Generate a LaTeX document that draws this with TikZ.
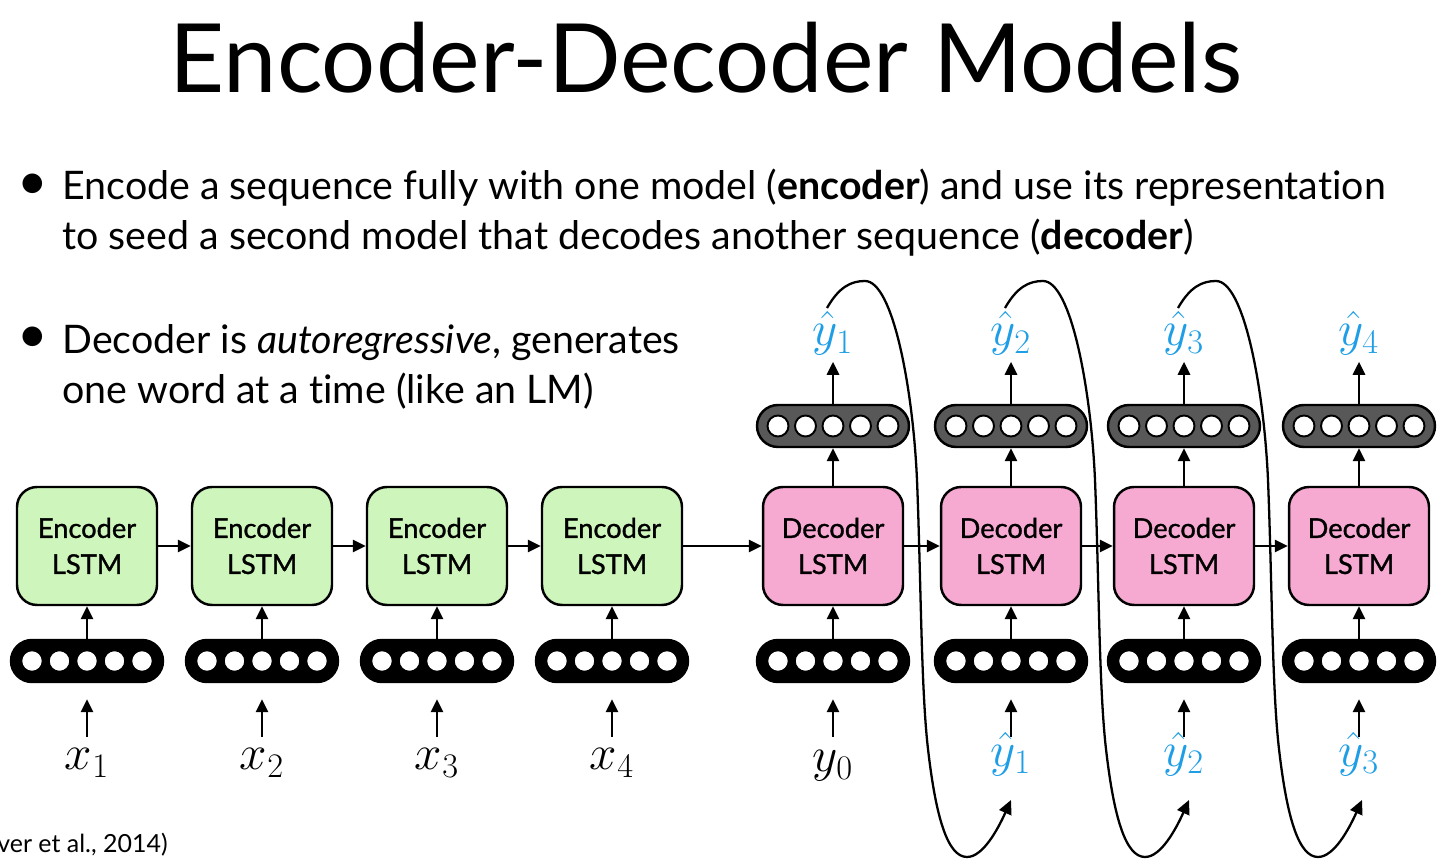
\RequirePackage{fix-cm}
\documentclass[tikz,border=0pt]{standalone}
\usepackage{fontspec}
\setmainfont{Lato}[Ligatures = NoCommon]
\newfontfamily\boxfont{Lato}[FakeBold = 1.2]
\usepackage{tikz}
\usetikzlibrary{arrows.meta,calc,positioning}
\definecolor{encgreen}{RGB}{206,246,188}
\definecolor{decpink}{RGB}{246,170,210}
\definecolor{outgray}{RGB}{88,88,88}
\definecolor{predblue}{RGB}{30,158,230}

\begin{document}
\begin{tikzpicture}[x=0.02cm, y=0.02cm]
	\tikzstyle{lstm} = [draw = black, line width = 1.4pt, rounded corners = 0.4cm, minimum width = 2.8cm, minimum height = 2.36cm, inner sep = 0pt, align = center, font = \boxfont\fontsize{15.5}{20.5}\selectfont]
	\tikzstyle{vec} = [draw = black, line width = 1.4pt, rounded corners = 0.42cm, minimum width = 3.04cm, minimum height = 0.84cm, inner sep = 0pt]
	\tikzstyle{arr} = [-{Triangle[length = 0.26cm, width = 0.24cm]}, line width = 1.6pt]
	\tikzstyle{inarr} = [arr, shorten < = 0.12cm, shorten > = 0.32cm]
	\tikzstyle{lbl} = [anchor = base, font = \fontsize{28}{30}\selectfont]
	\tikzstyle{txt} = [anchor = base west, inner sep = 0pt, font = \fontsize{22.4}{26}\selectfont]
	\tikzstyle{dot} = [anchor = center, inner sep = 0pt, font = \fontsize{30}{30}\selectfont]
\useasboundingbox (0,0) rectangle (1451,859);
\fill[white] (0,0) rectangle (1451,859);
% title and bullets
\node[anchor = base, inner sep = 0pt, font = \fontsize{54.4}{60}\selectfont] (title) at (706,766) {Encoder-Decoder Models};
\node[dot] (dot1) at (33,672) {\textbullet};
\node[txt] (l1) at (62,659) {Encode a sequence fully with one model (\textbf{encoder}) and use its representation};
\node[txt] (l2) at (62,609) {to seed a second model that decodes another sequence (\textbf{decoder})};
\node[dot] (dot2) at (33,519) {\textbullet};
\node[txt] (l3) at (62,505) {Decoder is \textit{autoregressive}, generates};
\node[txt] (l4) at (62,455) {one word at a time (like an LM)};
\node[anchor = base west, inner sep = 0pt, font = \fontsize{14.2}{17}\selectfont] (cite) at (-3,7) {ver et al., 2014)};
% encoder
\foreach \i/\x in {1/87,2/262,3/437,4/612} {
	\node[lstm, fill = encgreen] (e\i) at (\x,313) {Encoder\\LSTM};
	\node[vec, fill = black] (ve\i) at (\x,198) {};
	\foreach \k in {-2,...,2}
		\draw[line width = 0.8pt, fill = white] ($(ve\i)+(\k*27.5,0)$) circle (10.5);
	\node[lbl] (x\i) at (\x,89) {$x_\i$};
	\path[draw][arr] (ve\i) -- (e\i);
	\path[draw][inarr] (x1.north -| ve\i) -- (ve\i);
}
% decoder
\foreach \i/\x in {1/833,2/1011,3/1184,4/1359} {
	\node[lstm, fill = decpink] (d\i) at (\x,313) {Decoder\\LSTM};
	\node[vec, fill = black] (vd\i) at (\x,198) {};
	\node[vec, fill = outgray] (vo\i) at (\x,433) {};
	\foreach \k in {-2,...,2} {
		\draw[line width = 0.8pt, fill = white] ($(vd\i)+(\k*27.5,0)$) circle (10.5);
		\draw[line width = 1.1pt, fill = white] ($(vo\i)+(\k*27.5,0)$) circle (10.5);
	}
	\node[lbl, text = predblue] (yo\i) at (\x,513) {$\hat{y}_\i$};
	\path[draw][arr] (vd\i) -- (d\i);
	\path[draw][arr] (d\i) -- (vo\i);
	\path[draw][arr] (vo\i.north) -- (vo\i.north |- yo1.south);
}
\node[lbl] (yi1) at (833,87) {$y_0$};
\foreach \i/\j in {2/1,3/2,4/3}
	\node[lbl, text = predblue] (yi\i) at (d\i |- yi1) {$\hat{y}_\j$};
\foreach \i in {1,...,4}
	\path[draw][inarr] (x1.north -| vd\i) -- (vd\i);
% recurrent links
\foreach \i/\j in {1/2,2/3,3/4} {
	\path[draw][arr] (e\i) -- (e\j);
	\path[draw][arr] (d\i) -- (d\j);
}
\path[draw][arr] (e4) -- (d1);
% feeding the prediction back in
\foreach \i/\x in {1/833,2/1011,3/1184} {
	\begin{scope}[shift = {(\x,0)}]
	\coordinate (fbs\i) at (-6,551);
	\coordinate (fbe\i) at (178,59);
	\path[draw][line width = 1.3pt, -{Triangle[length = 0.28cm, width = 0.26cm]}] (fbs\i) .. controls (6,572) and (18,578) .. (32,578)
		.. controls (60,578) and (80,470) .. (84,379)
		.. controls (88,280) and (88,170) .. (95,110)
		.. controls (103,40) and (115,2) .. (134,2)
		.. controls (150,2) and (165,30) .. (fbe\i);
	\end{scope}
}
\end{tikzpicture}
\end{document}
